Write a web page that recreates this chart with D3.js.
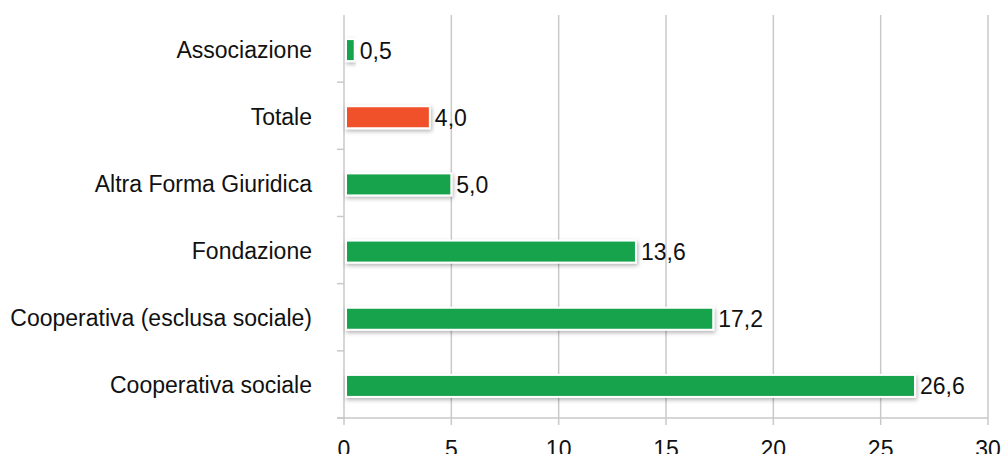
<!DOCTYPE html>
<html><head><meta charset="utf-8">
<script src="https://cdn.jsdelivr.net/npm/d3@7"></script>
<style>body{margin:0;background:#fff;}svg{display:block;font-family:"Liberation Sans",Arial,sans-serif;}</style>
</head><body>
<svg id="c" width="1002" height="454"></svg>
<script>
const categories = ["Associazione","Totale","Altra Forma Giuridica","Fondazione","Cooperativa (esclusa sociale)","Cooperativa sociale"];
const values = [0.5, 4.0, 5.0, 13.6, 17.2, 26.6];
const highlight = ["Totale"];
const xTicks = [0,5,10,15,20,25,30];

(function(){
const svg = d3.select("#c");
const mLeft = 344, mRight = 988, mTop = 15, mBottom = 418;
const fs = 23;
const x = d3.scaleLinear().domain([0,30]).range([mLeft,mRight]);
const band = d3.scaleBand().domain(categories).range([mTop,mBottom]);

const defs = svg.append("defs");
const f = defs.append("filter").attr("id","sh").attr("x","-5%").attr("y","-30%").attr("width","110%").attr("height","180%");
f.append("feDropShadow").attr("dx",1).attr("dy",2).attr("stdDeviation",2).attr("flood-color","#000").attr("flood-opacity",0.3);

svg.append("g").selectAll("line").data(xTicks).join("line")
  .attr("x1",d=>x(d)).attr("x2",d=>x(d)).attr("y1",mTop).attr("y2",mBottom+7)
  .attr("stroke","#c9c9c9").attr("stroke-width",1.5);
svg.append("line").attr("x1",mLeft-7).attr("x2",mRight).attr("y1",mBottom).attr("y2",mBottom)
  .attr("stroke","#c9c9c9").attr("stroke-width",1.5);
const bounds = categories.map(c=>band(c)).concat([mBottom]).slice(1);
svg.append("g").selectAll("line").data(bounds).join("line")
  .attr("x1",mLeft-7).attr("x2",mLeft).attr("y1",d=>d).attr("y2",d=>d)
  .attr("stroke","#c9c9c9").attr("stroke-width",1.5);

svg.append("g").selectAll("text").data(xTicks).join("text")
  .attr("x",d=>x(d)).attr("y",457).attr("text-anchor","middle")
  .attr("font-size",fs).attr("fill","#111").text(d=>d);

svg.append("g").selectAll("text").data(categories).join("text")
  .attr("x",312).attr("y",c=>band(c)+band.bandwidth()/2+1).attr("dy","0.35em")
  .attr("text-anchor","end").attr("font-size",fs).attr("fill","#111").text(c=>c);

svg.append("g").selectAll("rect").data(categories).join("rect")
  .attr("x",x(0)+2).attr("y",c=>band(c)+band.bandwidth()/2-9.5)
  .attr("width",(c,i)=>x(values[i])-x(0)-2).attr("height",22)
  .attr("fill",c=>highlight.includes(c)?"#f15129":"#12a34b")
  .attr("stroke","#fff").attr("stroke-width",2).attr("filter","url(#sh)");

svg.append("g").selectAll("text").data(categories).join("text")
  .attr("x",(c,i)=>x(values[i])+5).attr("y",c=>band(c)+band.bandwidth()/2+2).attr("dy","0.35em")
  .attr("font-size",fs).attr("fill","#111")
  .text((c,i)=>d3.format(".1f")(values[i]).replace(".",","));
})();
</script>
</body></html>
